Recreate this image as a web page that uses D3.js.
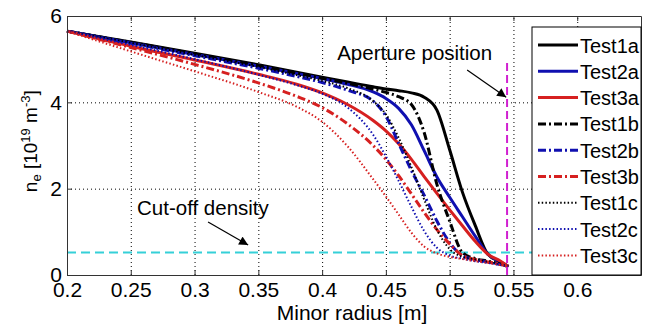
<!DOCTYPE html>
<html>
<head>
<meta charset="utf-8">
<script src="https://cdn.jsdelivr.net/npm/d3@7"></script>
<style>
  body { margin: 0; background: #fff; }
  svg { display: block; font-family: Arial, "Liberation Sans", sans-serif; }
  .grid line { stroke: #000; stroke-dasharray: 1,3; stroke-width: 1; }
  .grid path { display: none; }
  .axis text { font-size: 21px; fill: #000; }
  .axis path, .axis line { stroke: #333; }
</style>
</head>
<body>
<div class="visualizate"></div>
<script>
'use strict'

let width = 649;
let height = 329;
let margin = { left: 67, right: 8, top: 16, bottom: 54 };

/* radius grid shared by all profiles [m] */
const radius = [0.2, 0.25, 0.3, 0.35, 0.38, 0.4, 0.42, 0.44, 0.45, 0.46, 0.47, 0.48, 0.49, 0.5, 0.51, 0.52, 0.53, 0.54, 0.546];

/* density profiles, 10^19 m^-3 */
const test1a = [5.65, 5.40, 5.14, 4.87, 4.70, 4.58, 4.47, 4.36, 4.31, 4.27, 4.22, 4.12, 3.82, 2.90, 1.92, 1.15, 0.48, 0.30, 0.20];
const test2a = [5.65, 5.38, 5.11, 4.84, 4.67, 4.55, 4.42, 4.24, 4.09, 3.86, 3.48, 2.88, 2.27, 1.80, 1.35, 0.90, 0.48, 0.30, 0.20];
const test3a = [5.65, 5.30, 4.98, 4.65, 4.42, 4.22, 3.95, 3.58, 3.34, 3.04, 2.68, 2.28, 1.89, 1.51, 1.14, 0.78, 0.48, 0.32, 0.20];
const test1b = [5.65, 5.39, 5.12, 4.85, 4.68, 4.56, 4.44, 4.31, 4.23, 4.13, 3.95, 3.30, 2.10, 1.25, 0.52, 0.38, 0.32, 0.25, 0.20];
const test2b = [5.65, 5.37, 5.08, 4.79, 4.60, 4.46, 4.28, 4.03, 3.68, 3.05, 2.42, 1.85, 1.25, 0.75, 0.45, 0.36, 0.30, 0.24, 0.20];
const test3b = [5.65, 5.27, 4.88, 4.45, 4.14, 3.88, 3.50, 3.00, 2.68, 2.30, 1.88, 1.45, 1.05, 0.72, 0.45, 0.36, 0.30, 0.25, 0.20];
const test1c = [5.65, 5.38, 5.10, 4.82, 4.63, 4.50, 4.33, 4.03, 3.72, 3.18, 2.50, 1.75, 1.05, 0.60, 0.42, 0.36, 0.30, 0.24, 0.20];
const test2c = [5.65, 5.33, 5.00, 4.64, 4.40, 4.20, 3.88, 3.25, 2.75, 2.18, 1.58, 1.02, 0.63, 0.45, 0.38, 0.32, 0.28, 0.23, 0.20];
const test3c = [5.65, 5.18, 4.72, 4.24, 3.90, 3.55, 2.98, 2.22, 1.82, 1.40, 0.98, 0.66, 0.50, 0.42, 0.37, 0.32, 0.28, 0.23, 0.20];

const seriesNames = ['Test1a', 'Test2a', 'Test3a', 'Test1b', 'Test2b', 'Test3b', 'Test1c', 'Test2c', 'Test3c'];
const seriesValues = [test1a, test2a, test3a, test1b, test2b, test3b, test1c, test2c, test3c];

const xTicks = [0.2, 0.25, 0.3, 0.35, 0.4, 0.45, 0.5, 0.55, 0.6];
const xTickLabels = ['0.2', '0.25', '0.3', '0.35', '0.4', '0.45', '0.5', '0.55', '0.6'];
const yTicks = [0, 2, 4, 6];

/* reference lines */
const cutoffDensity = 0.52;
const aperturePosition = 0.545;


function styleFor (name) {
    const testNo = name[4];
    const kind = name[5];
    const color = testNo === '1' ? '#000000' : testNo === '2' ? '#1010b0' : '#d62020';
    if (kind === 'a') return { color, w: 3, dash: null };
    if (kind === 'b') return { color, w: 3, dash: '8,3,2,3' };
    return { color, w: 2, dash: '1.5,2.2' };
}


const svg = d3.select('.visualizate')
              .append('svg')
              .attr('width', width)
              .attr('height', height);

const plotW = width - margin.left - margin.right;
const plotH = height - margin.top - margin.bottom;

const xScale = d3.scaleLinear().domain([0.2, 0.65]).range([margin.left, margin.left + plotW]);
const yScale = d3.scaleLinear().domain([0, 6]).range([margin.top + plotH, margin.top]);

/* GRID */
svg.append('g')
    .attr('class', 'grid')
    .attr('transform', 'translate(0,' + (margin.top + plotH) + ')')
    .call(d3.axisBottom(xScale).tickValues(xTicks).tickSize(-plotH).tickFormat(''));
svg.append('g')
    .attr('class', 'grid')
    .attr('transform', 'translate(' + margin.left + ',0)')
    .call(d3.axisLeft(yScale).tickValues(yTicks).tickSize(-plotW).tickFormat(''));

/* cut-off density */
svg.append('line')
    .attr('x1', xScale(0.2)).attr('x2', xScale(0.65))
    .attr('y1', yScale(cutoffDensity)).attr('y2', yScale(cutoffDensity))
    .style('stroke', '#35d0d8').style('stroke-width', 2).style('stroke-dasharray', '9,5');

/* PROFILES */
const line = d3.line()
    .x((d, i) => xScale(radius[i]))
    .y(d => yScale(d))
    .curve(d3.curveMonotoneX);

seriesNames.forEach((name, k) => {
    const st = styleFor(name);
    svg.append('path')
        .datum(seriesValues[k])
        .attr('d', line)
        .style('fill', 'none')
        .style('stroke', st.color)
        .style('stroke-width', st.w)
        .style('stroke-dasharray', st.dash)
        .style('stroke-linejoin', 'round');
});

/* aperture */
svg.append('line')
    .attr('x1', xScale(aperturePosition)).attr('x2', xScale(aperturePosition))
    .attr('y1', yScale(0)).attr('y2', yScale(5))
    .style('stroke', '#d020d0').style('stroke-width', 2).style('stroke-dasharray', '8,4');

/* AXES (ticks inside, box on) */
const xAxis = d3.axisBottom(xScale).tickValues(xTicks)
    .tickFormat((d, i) => xTickLabels[i]).tickSizeInner(-5).tickSizeOuter(0).tickPadding(7);
const yAxis = d3.axisLeft(yScale).tickValues(yTicks)
    .tickFormat(d3.format('d')).tickSizeInner(-5).tickSizeOuter(0).tickPadding(5);

svg.append('g')
    .attr('class', 'axis')
    .attr('transform', 'translate(0,' + (margin.top + plotH) + ')')
    .call(xAxis);
svg.append('g')
    .attr('class', 'axis')
    .attr('transform', 'translate(0,' + margin.top + ')')
    .call(d3.axisTop(xScale).tickValues(xTicks).tickFormat('').tickSizeInner(-5).tickSizeOuter(0));
svg.append('g')
    .attr('class', 'axis')
    .attr('transform', 'translate(' + margin.left + ',0)')
    .call(yAxis);
svg.append('g')
    .attr('class', 'axis')
    .attr('transform', 'translate(' + (margin.left + plotW) + ',0)')
    .call(d3.axisRight(yScale).tickValues(yTicks).tickFormat('').tickSizeInner(-5).tickSizeOuter(0));

/* axis titles */
svg.append('text')
    .attr('x', 352)
    .attr('y', 320)
    .attr('text-anchor', 'middle')
    .style('font-size', '21px')
    .text('Minor radius [m]');

const yTitle = svg.append('text')
    .attr('transform', 'translate(37,' + yScale(3.1) + ') rotate(-90)')
    .attr('text-anchor', 'middle')
    .style('font-size', '19px');
yTitle.append('tspan').text('n');
yTitle.append('tspan').attr('baseline-shift', '-28%').style('font-size', '13px').text('e');
yTitle.append('tspan').text(' [10');
yTitle.append('tspan').attr('baseline-shift', '55%').style('font-size', '13px').text('19');
yTitle.append('tspan').text(' m');
yTitle.append('tspan').attr('baseline-shift', '55%').style('font-size', '13px').text('-3');
yTitle.append('tspan').text(']');

/* annotations */
svg.append('defs').append('marker')
    .attr('id', 'head')
    .attr('viewBox', '0 0 10 10')
    .attr('refX', 10).attr('refY', 5)
    .attr('markerWidth', 10).attr('markerHeight', 9)
    .attr('markerUnits', 'userSpaceOnUse')
    .attr('orient', 'auto')
    .append('path').attr('d', 'M0,0 L10,5 L0,10 z').style('fill', '#000');

svg.append('text')
    .attr('x', xScale(0.4118)).attr('y', yScale(4.98))
    .style('font-size', '20.5px')
    .text('Aperture position');
svg.append('line')
    .attr('x1', xScale(0.5137)).attr('y1', yScale(4.75))
    .attr('x2', xScale(0.5443)).attr('y2', yScale(4.12))
    .style('stroke', '#000').style('stroke-width', 1.2)
    .attr('marker-end', 'url(#head)');

svg.append('text')
    .attr('x', xScale(0.2549)).attr('y', yScale(1.39))
    .style('font-size', '20.5px')
    .text('Cut-off density');
svg.append('line')
    .attr('x1', xScale(0.3106)).attr('y1', yScale(1.23))
    .attr('x2', xScale(0.342)).attr('y2', yScale(0.695))
    .style('stroke', '#000').style('stroke-width', 1.2)
    .attr('marker-end', 'url(#head)');

/* LEGEND */
const legend = svg.append('g').attr('transform', 'translate(532,27)');
legend.append('rect')
    .attr('width', 109).attr('height', 248)
    .style('fill', '#fff').style('stroke', '#000').style('stroke-width', 1);

seriesNames.forEach((name, k) => {
    const st = styleFor(name);
    const yy = 18 + k * 26.3;
    legend.append('line')
        .attr('x1', 6).attr('x2', 46).attr('y1', yy).attr('y2', yy)
        .style('stroke', st.color).style('stroke-width', st.w)
        .style('stroke-dasharray', st.dash);
    legend.append('text')
        .attr('x', 48).attr('y', yy + 7.5)
        .style('font-size', '20px')
        .text(name);
});
</script>
</body>
</html>
